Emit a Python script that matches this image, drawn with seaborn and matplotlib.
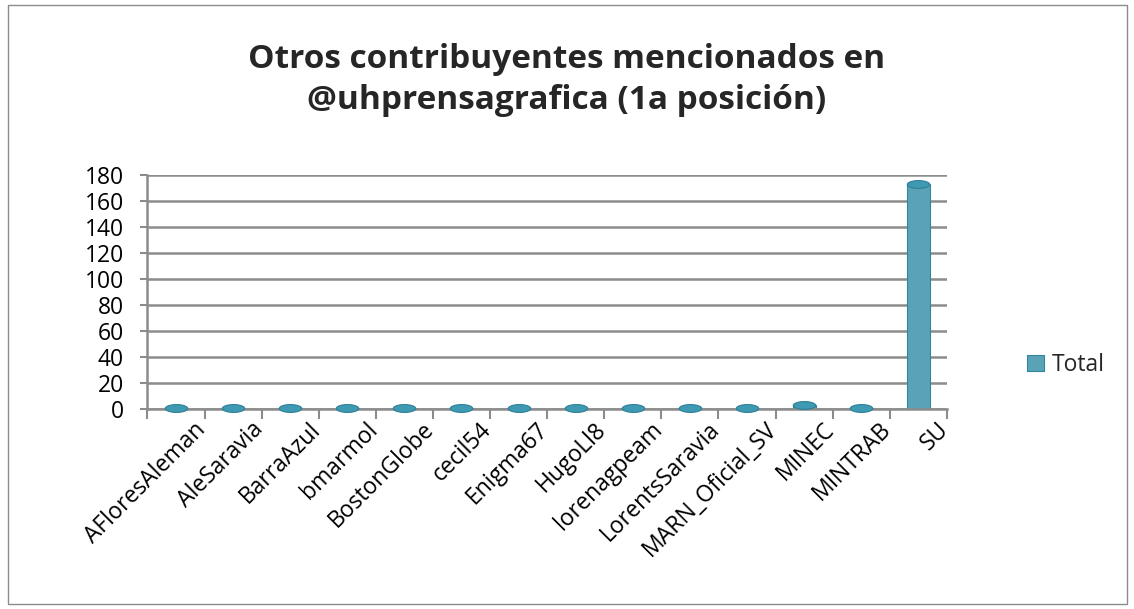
import matplotlib
matplotlib.use('Agg')
import matplotlib.pyplot as plt
import matplotlib.transforms as mtransforms
from matplotlib.path import Path
import seaborn as sns
import numpy as np
import pandas as pd

usuarios = ['AFloresAleman', 'AleSaravia', 'BarraAzul', 'bmarmol', 'BostonGlobe',
            'cecil54', 'Enigma67', 'HugoLl8', 'lorenagpeam', 'LorentsSaravia',
            'MARN_Oficial_SV', 'MINEC', 'MINTRAB', 'SU']
total = [1, 1, 1, 1, 1, 1, 1, 1, 1, 1, 1, 3, 1, 173]
y_ticks = [0, 20, 40, 60, 80, 100, 120, 140, 160, 180]

df = pd.DataFrame({'usuario': usuarios, 'Total': total})

sns.set_style('white')
plt.rcParams['font.family'] = ['Open Sans', 'DejaVu Sans']

fig = plt.figure(figsize=(11.34, 6.09), dpi=100)
ax = fig.add_axes([0.130, 0.328, 0.705, 0.385])

sns.barplot(data=df, x='usuario', y='Total', color='#4BACC6', width=0.4,
            edgecolor='#31859C', linewidth=0.8, label='Total', ax=ax)

# tapa elíptica de los cilindros
t = np.linspace(0, 2 * np.pi, 60)
elipse = Path(np.column_stack([np.cos(t), 0.35 * np.sin(t)]))
ax.scatter(np.arange(len(usuarios)), df['Total'], marker=elipse, s=260,
           color='#3E9AB3', edgecolor='#2F7F95', linewidth=0.8, zorder=5, clip_on=False)

ax.set_ylim(0, 180)
ax.set_xlim(-0.5, len(usuarios) - 0.5)
ax.set_yticks(y_ticks)
ax.yaxis.grid(True, color='#8C8C8C', linewidth=1.8)
ax.set_axisbelow(True)
for s in ['top', 'right']:
    ax.spines[s].set_visible(False)
for s in ['left', 'bottom']:
    ax.spines[s].set_color('#8C8C8C')
    ax.spines[s].set_linewidth(1.8)
ax.tick_params(axis='y', colors='#8C8C8C', length=5, width=1.5, labelcolor='black',
               labelsize=16.5, left=True, pad=12)
ax.set_xticks(range(len(usuarios)))
ax.set_xticklabels(usuarios, rotation=45, ha='right', rotation_mode='anchor')
ax.tick_params(axis='x', length=0, labelsize=16.5, labelcolor='black', pad=6)
ax.set_xticks(np.arange(-0.5, len(usuarios)), minor=True)
ax.tick_params(axis='x', which='minor', bottom=True, length=7, width=1.5, colors='#8C8C8C')
desplazar = mtransforms.ScaledTranslation(18 / 100, 0, fig.dpi_scale_trans)
for lab in ax.get_xticklabels():
    lab.set_transform(lab.get_transform() + desplazar)
ax.set_xlabel('')
ax.set_ylabel('')

ax.legend(loc='center left', bbox_to_anchor=(1.075, 0.19), frameon=False,
          fontsize=16.5, handlelength=0.7, handleheight=0.7, handletextpad=0.35)

fig.text(0.5, 1 - 80 / 609, 'Otros contribuyentes mencionados en\n@uhprensagrafica (1a posición)',
         ha='center', va='center', fontsize=24, fontweight='bold', linespacing=1.3)

fig.patches.append(plt.Rectangle((0.007, 0.009), 0.987, 0.983, transform=fig.transFigure,
                                 fill=False, edgecolor='#8C8C8C', linewidth=1))

fig.savefig('out.png', dpi=100, facecolor='white')
